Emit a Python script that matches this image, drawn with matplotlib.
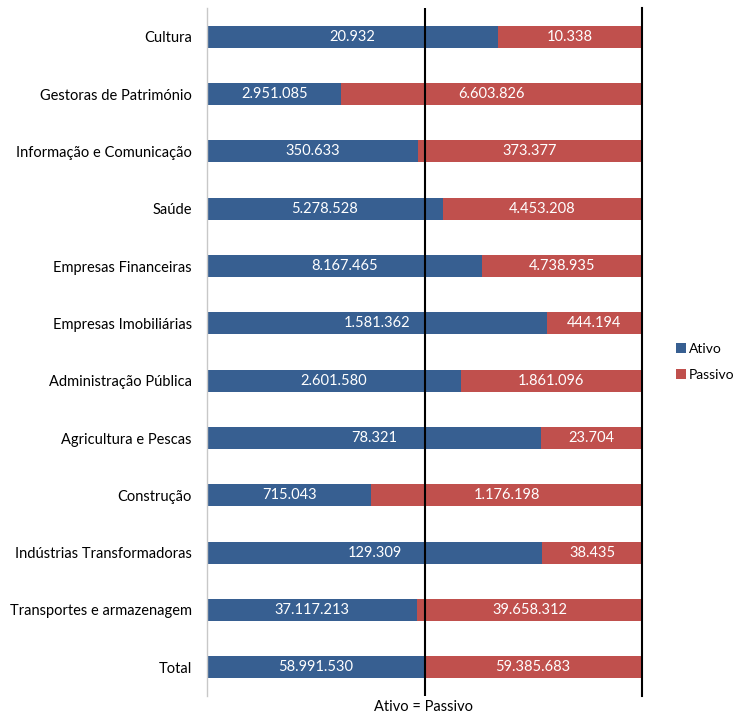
import matplotlib.pyplot as plt
import numpy as np

plt.rcParams['font.family'] = ['Lato', 'DejaVu Sans']

categories = [
    "Cultura",
    "Gestoras de Património",
    "Informação e Comunicação",
    "Saúde",
    "Empresas Financeiras",
    "Empresas Imobiliárias",
    "Administração Pública",
    "Agricultura e Pescas",
    "Construção",
    "Indústrias Transformadoras",
    "Transportes e armazenagem",
    "Total",
]
ativo = [20932, 2951085, 350633, 5278528, 8167465, 1581362, 2601580,
         78321, 715043, 129309, 37117213, 58991530]
passivo = [10338, 6603826, 373377, 4453208, 4738935, 444194, 1861096,
           23704, 1176198, 38435, 39658312, 59385683]

blue = "#375F91"
red = "#C0504D"


def fmt(v):
    return f"{v:,}".replace(",", ".")


a = np.array(ativo, dtype=float)
p = np.array(passivo, dtype=float)
tot = a + p
sa = a / tot
sp = p / tot
y = np.arange(len(categories))

W, H = 736, 715
fig = plt.figure(figsize=(W / 100, H / 100), dpi=100)
ax_top, ax_bot = 8, 696
ax = fig.add_axes([207 / W, 1 - ax_bot / H, (642 - 207) / W, (ax_bot - ax_top) / H])

h = 0.38
ba = ax.barh(y, sa, height=h, color=blue, label="Ativo", zorder=2)
bp = ax.barh(y, sp, left=sa, height=h, color=red, label="Passivo", zorder=2)

for i in range(len(categories)):
    ax.text(sa[i] / 2, y[i], fmt(ativo[i]), ha="center", va="center",
            color="white", fontsize=10.5, zorder=3)
    ax.text(sa[i] + sp[i] / 2, y[i], fmt(passivo[i]), ha="center", va="center",
            color="white", fontsize=10.5, zorder=3)

ax.set_xlim(0, 1)
ax.set_ylim(len(categories) - 0.5, -0.5)
ax.set_yticks(y)
ax.set_yticklabels(categories, fontsize=10.5)
ax.tick_params(axis="y", length=0, pad=11)
ax.set_xticks([])

for s in ["top", "bottom", "right"]:
    ax.spines[s].set_visible(False)
ax.spines["left"].set_color("#C8C8C8")
ax.spines["left"].set_linewidth(1.0)

ax.axvline(0.5, color="black", lw=1.5, zorder=4)
ax.axvline(1.0, color="black", lw=1.5, zorder=4, clip_on=False)

fig.text(424 / W, 1 - 707 / H, "Ativo = Passivo", ha="center", va="center",
         fontsize=10.5)

fig.legend(handles=[ba, bp], labels=["Ativo", "Passivo"],
           loc="center left", bbox_to_anchor=(676 / W, 1 - 362 / H),
           frameon=False, fontsize=10, handlelength=0.7, handleheight=0.7,
           handletextpad=0.25, labelspacing=1.0, borderpad=0, borderaxespad=0)

fig.savefig("out.png", dpi=100)
